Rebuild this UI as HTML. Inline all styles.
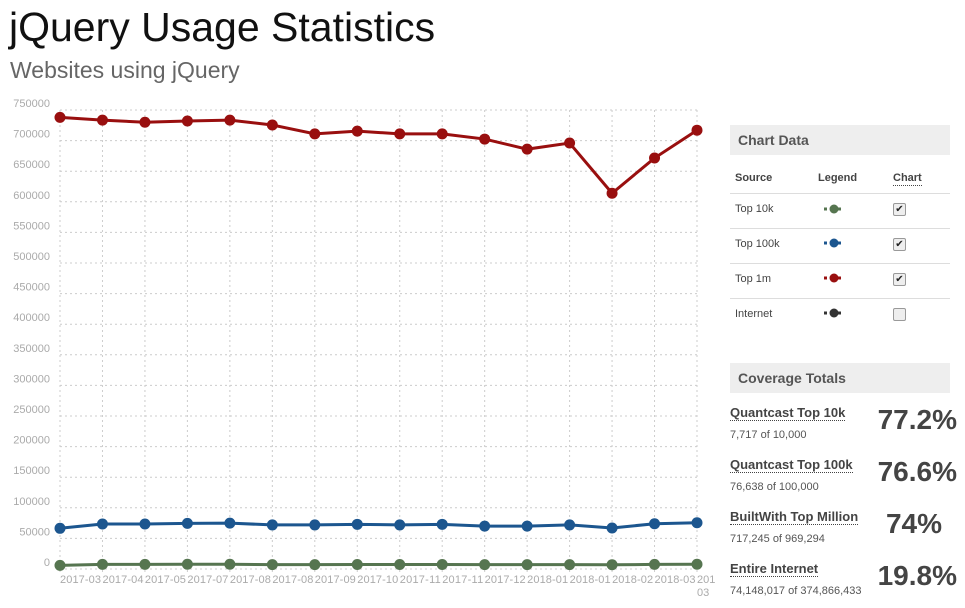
<!DOCTYPE html>
<html><head><meta charset="utf-8"><style>
body{margin:0;width:965px;height:608px;overflow:hidden;background:#fff;font-family:"Liberation Sans",sans-serif;position:relative}
.abs{position:absolute}
h1{position:absolute;left:9px;top:4px;margin:0;font-weight:normal;font-size:41px;color:#111}
h2{position:absolute;left:10px;top:57px;margin:0;font-weight:normal;font-size:23px;color:#666}
.hdr{position:absolute;left:730px;width:220px;height:30px;background:#eee;font-weight:bold;font-size:14px;color:#555;line-height:30px;text-indent:8px}
.t{position:absolute;font-size:12px;color:#444}
.line{position:absolute;left:730px;width:220px;height:1px;background:#ddd}
.cb{position:absolute;left:893px;width:11px;height:11px;border:1px solid #999;border-radius:2px;background:#eee;font-size:10px;line-height:11px;text-align:center;color:#222}
.ct{position:absolute;left:730px;font-size:13px;font-weight:bold;color:#444;border-bottom:1px dotted #444;line-height:14px}
.cs{position:absolute;left:730px;font-size:11px;color:#555}
.pc{position:absolute;right:8px;font-size:28px;font-weight:bold;color:#444}
</style></head><body>
<h1>jQuery Usage Statistics</h1>
<h2>Websites using jQuery</h2>
<svg id="chart" class="abs" style="left:0;top:0" width="720" height="608"></svg>

<div class="hdr" style="top:125px">Chart Data</div>
<div class="t" style="left:735px;top:172px;font-weight:bold;font-size:11px">Source</div>
<div class="t" style="left:818px;top:172px;font-weight:bold;font-size:11px">Legend</div>
<div class="t" style="left:893px;top:172px;font-weight:bold;font-size:11px;border-bottom:1px dotted #444;line-height:13px">Chart</div>
<div class="line" style="top:193px"></div>
<div class="line" style="top:228px"></div>
<div class="line" style="top:263px"></div>
<div class="line" style="top:298px"></div>
<div class="t" style="left:735px;top:203px;font-size:11px">Top 10k</div>
<div class="t" style="left:735px;top:238px;font-size:11px">Top 100k</div>
<div class="t" style="left:735px;top:273px;font-size:11px">Top 1m</div>
<div class="t" style="left:735px;top:308px;font-size:11px">Internet</div>
<svg class="abs" style="left:820px;top:200px" width="30" height="120">
<g><line x1="4" x2="24" y1="9" y2="9" stroke="#567550" stroke-width="3" stroke-dasharray="3,4"/><circle cx="14" cy="9" r="4.5" fill="#567550"/></g>
<g><line x1="4" x2="24" y1="43" y2="43" stroke="#1c568f" stroke-width="3" stroke-dasharray="3,4"/><circle cx="14" cy="43" r="4.5" fill="#1c568f"/></g>
<g><line x1="4" x2="24" y1="78" y2="78" stroke="#990f0f" stroke-width="3" stroke-dasharray="3,4"/><circle cx="14" cy="78" r="4.5" fill="#990f0f"/></g>
<g><line x1="4" x2="24" y1="113" y2="113" stroke="#333" stroke-width="3" stroke-dasharray="3,4"/><circle cx="14" cy="113" r="4.5" fill="#333"/></g>
</svg>
<div class="cb" style="top:203px">✔</div>
<div class="cb" style="top:238px">✔</div>
<div class="cb" style="top:273px">✔</div>
<div class="cb" style="top:308px"></div>

<div class="hdr" style="top:363px">Coverage Totals</div>
<div class="ct" style="top:406px">Quantcast Top 10k</div>
<div class="cs" style="top:429px">7,717 of 10,000</div>
<div class="pc" style="top:404px">77.2%</div>
<div class="ct" style="top:458px">Quantcast Top 100k</div>
<div class="cs" style="top:481px">76,638 of 100,000</div>
<div class="pc" style="top:456px">76.6%</div>
<div class="ct" style="top:510px">BuiltWith Top Million</div>
<div class="cs" style="top:533px">717,245 of 969,294</div>
<div class="pc" style="top:508px;right:23px">74%</div>
<div class="ct" style="top:562px">Entire Internet</div>
<div class="cs" style="top:585px">74,148,017 of 374,866,433</div>
<div class="pc" style="top:560px">19.8%</div>

<script>
const categories=["2017-03","2017-04","2017-05","2017-07","2017-08","2017-08","2017-09","2017-10","2017-11","2017-11","2017-12","2018-01","2018-01","2018-02","2018-03","2018-03"];
const top1m=[738000,733500,730000,732000,733500,725500,711000,715500,711000,711000,702500,686000,696000,614000,671500,717000];
const top100k=[66500,73500,73500,74500,75000,72000,72000,73000,72000,73000,70000,70000,72000,67000,74000,75500];
const top10k=[6000,7500,7600,7700,7700,7200,7200,7400,7300,7400,7100,7100,7200,6900,7500,7700];
const yTicks=[0,50000,100000,150000,200000,250000,300000,350000,400000,450000,500000,550000,600000,650000,700000,750000];
const NS="http://www.w3.org/2000/svg";
const svg=document.getElementById('chart');
const x0=60,x1=697,yZero=569,yTop=110,yMax=750000;
const xs=i=>x0+i*(x1-x0)/(categories.length-1);
const ys=v=>yZero-(v/yMax)*(yZero-yTop);
function mk(t,a){const e=document.createElementNS(NS,t);for(const k in a)e.setAttribute(k,a[k]);svg.appendChild(e);return e;}
yTicks.forEach(v=>{
  const l=mk('line',{x1:x0,x2:x1,y1:ys(v),y2:ys(v),stroke:'#ccc','stroke-dasharray':'2,3'});
  
  
  const t=mk('text',{x:50,y:ys(v)-3,'text-anchor':'end','font-size':'11',fill:'#aaa','font-family':'Liberation Sans, sans-serif'});
  t.textContent=v;
  
  
});
categories.forEach((c,i)=>{
  const l=mk('line',{x1:xs(i),x2:xs(i),y1:yTop,y2:yZero+5,stroke:'#ccc','stroke-dasharray':'2,3'});
  
  
  const t=mk('text',{x:xs(i),y:583,'font-size':'11',fill:'#aaa','font-family':'Liberation Sans, sans-serif',textLength:i<categories.length-1?41:0});
  t.textContent=i<categories.length-1?c:'201';
  
  
});
const wrap=mk('text',{x:xs(categories.length-1),y:596,'font-size':'11',fill:'#aaa','font-family':'Liberation Sans, sans-serif'});
wrap.textContent='03';


function series(data,color,name){
  const p=mk('polyline',{points:data.map((v,i)=>xs(i)+','+ys(v)).join(' '),fill:'none',stroke:color,'stroke-width':3});
  
  
  data.forEach((v,i)=>{
    const c=mk('circle',{cx:xs(i),cy:ys(v),r:5.5,fill:color});
    
    
  });
}
series(top1m,'#990f0f','top1m');
series(top100k,'#1c568f','top100k');
series(top10k,'#567550','top10k');
</script>
</body></html>
